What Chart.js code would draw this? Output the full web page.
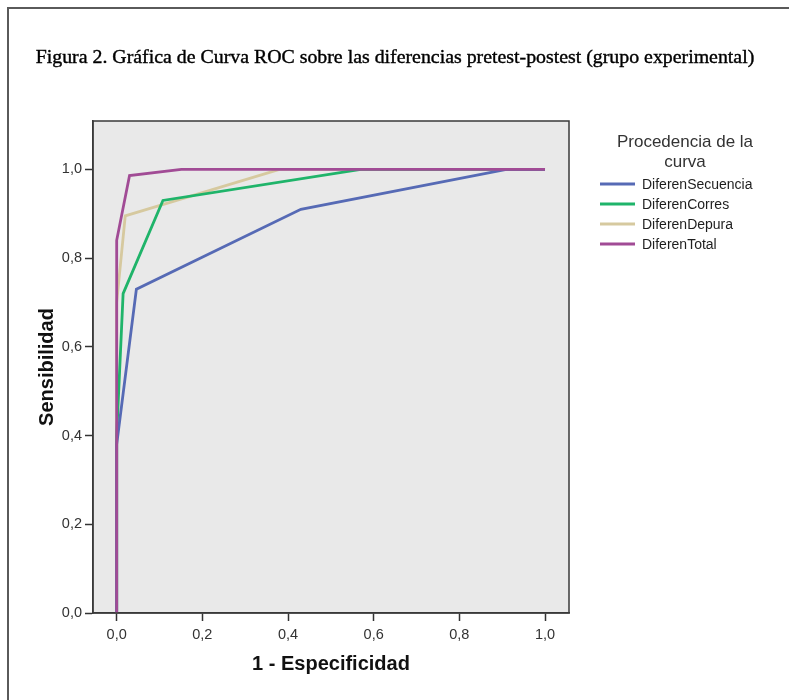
<!DOCTYPE html>
<html>
<head>
<meta charset="utf-8">
<script src="https://cdn.jsdelivr.net/npm/chart.js@4/dist/chart.umd.min.js"></script>
<style>
  html, body { margin: 0; padding: 0; background: #fff; }
  #wrap { width: 789px; height: 700px; position: relative; }
</style>
</head>
<body>
<div id="wrap"><canvas id="roc"></canvas></div>
<script>
// datos
var seriesNames = ['DiferenSecuencia', 'DiferenCorres', 'DiferenDepura', 'DiferenTotal'];
var seriesColors = ['#566ab5', '#1fb46a', '#d6c99f', '#a14b95'];

var secuenciaX = [0, 0, 0.046, 0.43, 0.91, 1];
var secuenciaY = [0, 0.38, 0.73, 0.91, 1, 1];
var corresX = [0, 0, 0.015, 0.108, 0.57, 1];
var corresY = [0, 0.40, 0.72, 0.93, 1, 1];
var depuraX = [0, 0, 0.02, 0.38, 1];
var depuraY = [0, 0.70, 0.895, 1, 1];
var totalX = [0, 0, 0.03, 0.151, 1];
var totalY = [0, 0.84, 0.986, 1, 1];

var axisTicks = [0, 0.2, 0.4, 0.6, 0.8, 1.0];

var titleText = 'Figura 2. Gráfica de Curva ROC sobre las diferencias pretest-postest (grupo experimental)';
var legendTitle = ['Procedencia de la', 'curva'];

function toPoints(xs, ys) {
    return xs.map(function (x, i) { return { x: x, y: ys[i] }; });
}

var allX = [secuenciaX, corresX, depuraX, totalX];
var allY = [secuenciaY, corresY, depuraY, totalY];
var drawOrder = [1, 2, 3, 0];

var datasets = seriesNames.map(function (name, i) {
    return {
        label: name,
        data: toPoints(allX[i], allY[i]),
        borderColor: seriesColors[i],
        backgroundColor: seriesColors[i],
        borderWidth: 2.8,
        showLine: true,
        pointRadius: 0,
        tension: 0,
        order: drawOrder[i]
    };
});

function commaLabel(v) {
    return Number(v).toFixed(1).replace('.', ',');
}

var decoPlugin = {
    id: 'deco',
    beforeDraw: function (chart) {
        var ctx = chart.ctx, a = chart.chartArea;
        ctx.save();
        ctx.fillStyle = '#e9e9e9';
        ctx.fillRect(a.left, a.top, a.right - a.left, a.bottom - a.top);
        ctx.restore();
    },
    afterDraw: function (chart) {
        var ctx = chart.ctx, a = chart.chartArea;
        ctx.save();
        // borde del area
        ctx.strokeStyle = '#3a3a3a';
        ctx.lineWidth = 1.5;
        ctx.strokeRect(a.left, a.top, a.right - a.left, a.bottom - a.top);

        // marco de la figura
        ctx.strokeStyle = '#5a5a5a';
        ctx.lineWidth = 2;
        ctx.beginPath();
        ctx.moveTo(8, 700);
        ctx.lineTo(8, 8);
        ctx.lineTo(789, 8);
        ctx.stroke();

        // titulo
        var size = 20;
        ctx.font = size + 'px "Liberation Serif", serif';
        var w = ctx.measureText(titleText).width;
        size = size * 719 / w;
        ctx.font = size + 'px "Liberation Serif", serif';
        ctx.fillStyle = '#000';
        ctx.strokeStyle = '#000';
        ctx.lineWidth = 0.4;
        ctx.textAlign = 'center';
        ctx.textBaseline = 'middle';
        ctx.fillText(titleText, 395, 58);
        ctx.strokeText(titleText, 395, 58);

        // leyenda
        ctx.fillStyle = '#333';
        ctx.font = '17px "Liberation Sans", Arial, sans-serif';
        ctx.fillText(legendTitle[0], 685, 142);
        ctx.fillText(legendTitle[1], 685, 162);
        ctx.textAlign = 'left';
        ctx.font = '14px "Liberation Sans", Arial, sans-serif';
        chart.data.datasets.forEach(function (ds, i) {
            var y = 184 + i * 20;
            ctx.strokeStyle = ds.borderColor;
            ctx.lineWidth = 2.8;
            ctx.beginPath();
            ctx.moveTo(600, y);
            ctx.lineTo(635, y);
            ctx.stroke();
            ctx.fillStyle = '#1e1e1e';
            ctx.fillText(ds.label, 642, y + 1);
        });
        ctx.restore();
    }
};

var ctx = document.getElementById('roc').getContext('2d');
new Chart(ctx, {
    type: 'scatter',
    data: { datasets: datasets },
    plugins: [decoPlugin],
    options: {
        responsive: true,
        maintainAspectRatio: false,
        animation: false,
        layout: { padding: { top: 121, right: 220, left: 0, bottom: 0 } },
        plugins: {
            legend: { display: false },
            tooltip: { enabled: false }
        },
        scales: {
            x: {
                type: 'linear',
                min: -0.0553,
                max: 1.056,
                afterFit: function (s) { s.height = 87; },
                afterBuildTicks: function (s) {
                    s.ticks = axisTicks.map(function (v) { return { value: v }; });
                },
                grid: { drawOnChartArea: false, drawTicks: true, tickLength: 8, tickColor: '#333', tickWidth: 1.5 },
                border: { display: true, color: '#3a3a3a', width: 1.5 },
                ticks: {
                    padding: 5,
                    color: '#333',
                    font: { family: '"Liberation Sans", Arial, sans-serif', size: 14.5 },
                    callback: commaLabel
                },
                title: {
                    display: true,
                    text: '1 - Especificidad',
                    color: '#111',
                    font: { family: '"Liberation Sans", Arial, sans-serif', size: 20, weight: 'bold' },
                    padding: { top: 0, bottom: 24 }
                }
            },
            y: {
                type: 'linear',
                min: 0,
                max: 1.109,
                afterFit: function (s) { s.width = 93; },
                afterBuildTicks: function (s) {
                    s.ticks = axisTicks.map(function (v) { return { value: v }; });
                },
                grid: { drawOnChartArea: false, drawTicks: true, tickLength: 8, tickColor: '#333', tickWidth: 1.5 },
                border: { display: true, color: '#3a3a3a', width: 1.5 },
                ticks: {
                    padding: 3,
                    color: '#333',
                    font: { family: '"Liberation Sans", Arial, sans-serif', size: 14.5 },
                    callback: commaLabel
                },
                title: {
                    display: true,
                    text: 'Sensibilidad',
                    color: '#111',
                    font: { family: '"Liberation Sans", Arial, sans-serif', size: 20, weight: 'bold' },
                    padding: { top: 35, bottom: 0 }
                }
            }
        }
    }
});
</script>
</body>
</html>
